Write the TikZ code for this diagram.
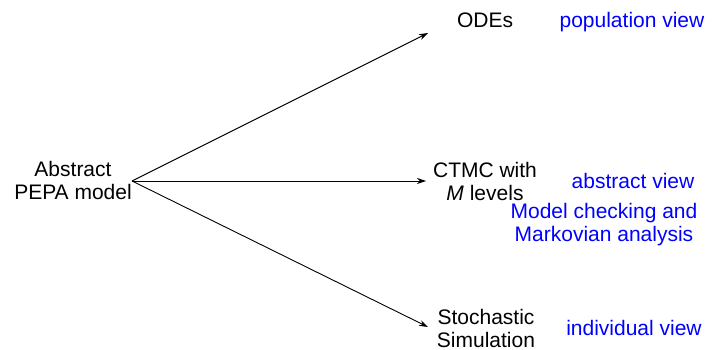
\documentclass[tikz,border=0pt]{standalone}
\usepackage{fontspec}
\setmainfont{Liberation Sans}
\usetikzlibrary{arrows.meta}
\begin{document}
\begin{tikzpicture}[x=1pt,y=-1pt,
  lbl/.style={inner sep=0pt, align=center, font=\fontsize{21}{23}\selectfont},
  view/.style={lbl, text=blue},
  flow/.style={line width=0.9pt, -{Stealth[length=9pt,width=6pt]}}]
  \useasboundingbox (0,0) rectangle (725,350);

  % source model
  \node[lbl] (abs) at (73,180) {Abstract\\PEPA model};
  \coordinate (src) at (132,181);

  % the three analysis targets
  \node[lbl, anchor=base] (odes) at (485,28) {ODEs};
  \node[lbl] (ctmc) at (485,181) {CTMC with\\\textit{M} levels};
  \node[lbl] (sim) at (486,328) {Stochastic\\Simulation};

  % interpretations
  \node[view, anchor=base] (pop) at (632,28) {population view};
  \node[view, anchor=base] (absv) at (633,188) {abstract view};
  \node[view] (mc) at (604,225) {Model checking and\\Markovian analysis};
  \node[view, anchor=base] (ind) at (634,335) {individual view};

  % arrow tips just short of each target
  \coordinate (t1) at (428,33);
  \coordinate (t2) at (426,181);
  \coordinate (t3) at (428,327);

  \draw[flow] (src) -- (t1);
  \draw[flow] (src) -- (t2);
  \draw[flow] (src) -- (t3);
\end{tikzpicture}
\end{document}
